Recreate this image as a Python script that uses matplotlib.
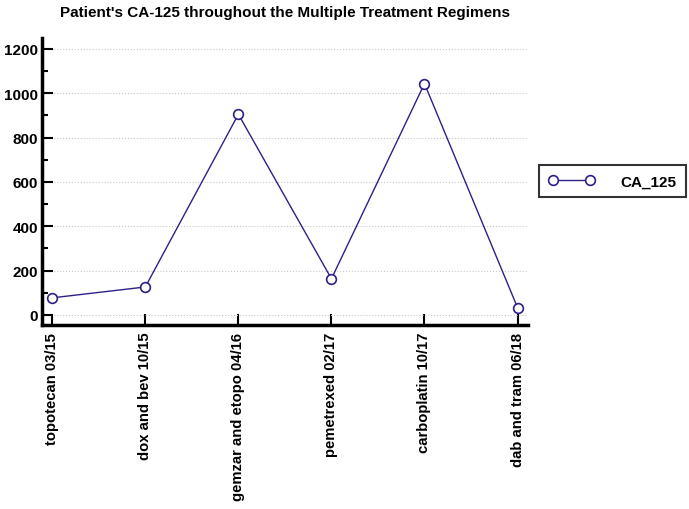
import numpy as np
import matplotlib
matplotlib.use('Agg')
import matplotlib.pyplot as plt
from matplotlib.ticker import MultipleLocator

plt.rcParams['font.family'] = ['Liberation Sans', 'DejaVu Sans']

# Data
regimens = ['topotecan 03/15', 'dox and bev 10/15', 'gemzar and etopo 04/16',
            'pemetrexed 02/17', 'carboplatin 10/17', 'dab and tram 06/18']
ca_125 = [77, 126, 905, 163, 1043, 33]

line_color = '#2b2187'

fig = plt.figure(figsize=(6.89, 5.10), dpi=100)
ax = fig.add_axes([0.061, 0.361, 0.705, 0.563])

x = np.arange(len(regimens))
ax.plot(x, ca_125, color=line_color, lw=1, marker='o', ms=7,
        markerfacecolor='white', markeredgecolor=line_color, mew=1.2,
        label='CA_125', zorder=3)

ax.set_xlim(-0.11, 5.11)
ax.set_ylim(-45, 1250)
ax.set_xticks(x)
ax.set_xticklabels(regimens, rotation=90, fontweight='bold', fontsize=10.7)
ax.yaxis.set_major_locator(MultipleLocator(200))
ax.yaxis.set_minor_locator(MultipleLocator(100))
for lbl in ax.get_yticklabels():
    lbl.set_fontweight('bold')
    lbl.set_fontsize(11)

ax.tick_params(axis='both', which='major', direction='in', length=8, width=1.5, pad=5)
ax.tick_params(axis='y', which='minor', direction='in', length=4, width=1.5)
ax.tick_params(axis='y', which='major', pad=3)

ax.spines['top'].set_visible(False)
ax.spines['right'].set_visible(False)
ax.spines['left'].set_linewidth(2.5)
ax.spines['bottom'].set_linewidth(2.5)

ax.yaxis.grid(True, which='major', color='#c8c8c8', linestyle=':', linewidth=0.8)
ax.set_axisbelow(True)

ax.set_title("Patient's CA-125 throughout the Multiple Treatment Regimens",
             fontweight='bold', fontsize=11, x=0.5, pad=16)

leg = ax.legend(loc='center left', bbox_to_anchor=(1.024, 0.5), frameon=True,
                fancybox=False, edgecolor='black', prop={'weight': 'bold', 'size': 11},
                numpoints=2, handlelength=3, borderpad=0.6, handletextpad=1.7,
                borderaxespad=0)
leg.get_frame().set_linewidth(1.5)

fig.savefig('out.png', dpi=100)
